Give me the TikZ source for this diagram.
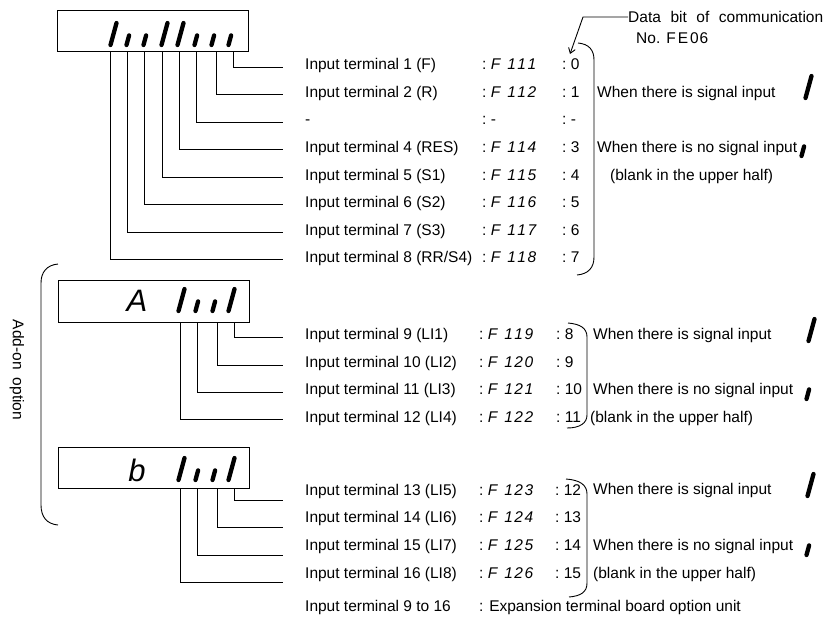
\documentclass[tikz,border=0pt]{standalone}
\usepackage{fontspec}
\setmainfont{Liberation Sans}
\usetikzlibrary{arrows.meta}
\newcommand\fs{\fontsize{15.5}{18}\selectfont}
\newcommand\cdx[3]{:\ \textit{F\hspace{7pt}#1\hspace{1.5pt}#2\hspace{1.5pt}#3}}
\newcommand\cd[1]{\expandafter\cdx#1}
\newcommand\tallbar[2]{\draw[bar] (#1,#2) ++(0.5,-2) -- ++(6,-22);}
\newcommand\shortbar[2]{\draw[bar] (#1,#2) ++(0.5,-2) -- ++(2.6,-9.6);}
\begin{document}
\begin{tikzpicture}[x=1pt,y=-1pt,
  wire/.style={line width=0.9pt},
  disp/.style={draw,line width=0.9pt,minimum width=191pt,inner sep=0pt,anchor=north west},
  bar/.style={line width=4.3pt,line cap=round},
  lbl/.style={anchor=base west,inner sep=0pt,font=\fs},
  big/.style={anchor=center,inner sep=0pt,font=\fontsize{31}{31}\selectfont\itshape}]
\useasboundingbox (0,0) rectangle (827,625);

% ---------- display 1 ----------
\node[disp,minimum height=41pt] (d1) at (57,10) {};
\foreach \x in {110,161,177} {\tallbar{\x}{47}}
\foreach \x in {126,143,194,211,228} {\shortbar{\x}{47}}
\foreach \k/\x/\y in {1/233/67,2/216/94.5,3/196/122,4/179/149.5,5/162/177,6/144/204.5,7/127/232,8/110/259.5}
  {\coordinate (p\k) at (\x,51); \coordinate (e\k) at (283,\y); \draw[wire] (p\k) |- (e\k);}

\foreach \k/\y/\t/\c/\n in {
  1/64/{Input terminal 1 (F)}/111/0,
  2/92/{Input terminal 2 (R)}/112/1,
  4/147/{Input terminal 4 (RES)}/114/3,
  5/174.5/{Input terminal 5 (S1)}/115/4,
  6/202/{Input terminal 6 (S2)}/116/5,
  7/229.5/{Input terminal 7 (S3)}/117/6,
  8/257/{Input terminal 8 (RR/S4)}/118/7}
{ \node[lbl] (t\k) at (305,\y+5.5) {\t};
  \node[lbl] (c\k) at (482,\y+5.5) {\cd{\c}};
  \node[lbl] (n\k) at (562,\y+5.5) {:\ \n}; }
\node[lbl] (t3) at (305,124.5) {-};
\node[lbl] (c3) at (482,124.5) {:\ -};
\node[lbl] (n3) at (562,124.5) {:\ -};

% data bit label
\node[lbl] (db) at (628,22.5) {\makebox[195pt][s]{Data bit of communication}};
\node[lbl] (no) at (636,43.5) {No.\hspace{6pt}F\hspace{2pt}E\hspace{2pt}0\hspace{1pt}6};
\coordinate (bend) at (583,17);
\coordinate (tip) at (570,54);
\draw[wire,-{Straight Barb[length=5pt,width=7pt]}] (db.west) -- (bend) -- (tip);

% bracket 1
\draw[wire] (578,43) .. controls (589,44) and (594,50) .. (594,60) -- (594,257)
  .. controls (594,268) and (588,274) .. (577,275);
\node[lbl] (w1a) at (597,97.5) {When there is signal input};
\node[lbl] (w1b) at (597,152.5) {When there is no signal input};
\node[lbl] (w1c) at (610,180) {(blank in the upper half)};
\tallbar{805}{100}
\shortbar{801}{158}

% ---------- display 2 ----------
\node[disp,minimum height=42pt] (d2) at (58,280) {};
\node[big] (la) at (137,301) {A};
\foreach \x in {178,228} {\tallbar{\x}{313}}
\foreach \x in {195,212} {\shortbar{\x}{313}}
\foreach \k/\x/\y in {9/234/337,10/217/365,11/197/392,12/180/419.5}
  {\coordinate (p\k) at (\x,322); \coordinate (e\k) at (283,\y); \draw[wire] (p\k) |- (e\k);}
\foreach \k/\y/\t/\c/\n in {
  9/334/{Input terminal 9 (LI1)}/119/8,
  10/361.5/{Input terminal 10 (LI2)}/120/9,
  11/389/{Input terminal 11 (LI3)}/121/10,
  12/416.5/{Input terminal 12 (LI4)}/122/11}
{ \node[lbl] (t\k) at (305,\y+5.5) {\t};
  \node[lbl] (c\k) at (479,\y+5.5) {\cd{\c}};
  \node[lbl] (n\k) at (556,\y+5.5) {:\ \n}; }
\draw[wire] (568,323) .. controls (580,324) and (587,328) .. (587,337) -- (587,415)
  .. controls (587,423) and (580,428) .. (567,428);
\node[lbl] (w2a) at (593,339.5) {When there is signal input};
\node[lbl] (w2b) at (593,394.5) {When there is no signal input};
\node[lbl] (w2c) at (590,422) {(blank in the upper half)};
\tallbar{808}{343}
\shortbar{806}{401}

% ---------- display 3 ----------
\node[disp,minimum height=41pt] (d3) at (58,447) {};
\node[big] (lb) at (137,470) {b};
\foreach \x in {178,228} {\tallbar{\x}{482}}
\foreach \x in {195,212} {\shortbar{\x}{482}}
\foreach \k/\x/\y in {13/234/500,14/217/527.5,15/197/555,16/180/582.5}
  {\coordinate (p\k) at (\x,488); \coordinate (e\k) at (283,\y); \draw[wire] (p\k) |- (e\k);}
\foreach \k/\y/\t/\c/\n in {
  13/489.5/{Input terminal 13 (LI5)}/123/12,
  14/517/{Input terminal 14 (LI6)}/124/13,
  15/545/{Input terminal 15 (LI7)}/125/14,
  16/573/{Input terminal 16 (LI8)}/126/15}
{ \node[lbl] (t\k) at (305,\y+5.5) {\t};
  \node[lbl] (c\k) at (479,\y+5.5) {\cd{\c}};
  \node[lbl] (n\k) at (555,\y+5.5) {:\ \n}; }
\draw[wire] (566,479) .. controls (580,480) and (587,485) .. (587,494) -- (587,583)
  .. controls (587,592) and (581,596) .. (569,597);
\node[lbl] (w3a) at (593,494.5) {When there is signal input};
\node[lbl] (w3b) at (593,550.5) {When there is no signal input};
\node[lbl] (w3c) at (593,578.5) {(blank in the upper half)};
\tallbar{807}{498}
\shortbar{806}{557}

% footer
\node[lbl] (tx) at (305,611.5) {Input terminal 9 to 16};
\node[lbl] (cx) at (479,611.5) {: Expansion terminal board option unit};

% add-on bracket
\draw[wire] (58,264) .. controls (47,265) and (41,272) .. (41,283) -- (41,505)
  .. controls (41,517) and (47,524) .. (58,525);
\node[font=\fs,rotate=-90,inner sep=0pt] (addon) at (17,370) {Add-on\hspace{8pt}option};
\end{tikzpicture}
\end{document}
